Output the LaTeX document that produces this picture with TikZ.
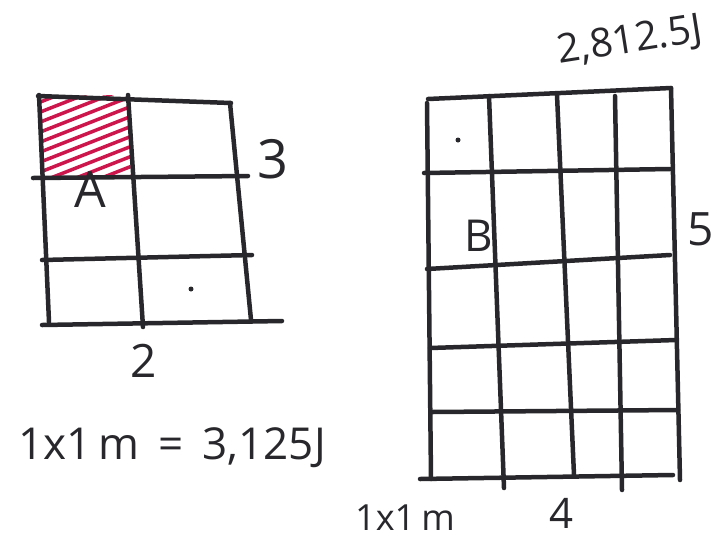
\documentclass[tikz,border=0pt]{standalone}
\usepackage{fontspec}
\setmainfont{Open Sans}
\definecolor{hatchred}{RGB}{205,22,75}
\definecolor{ink}{RGB}{40,40,44}
\tikzset{
  gridline/.style={draw=ink, line width=4.5pt, line cap=round},
  hatch/.style={draw=hatchred, line width=3.5pt, line cap=round},
  hand/.style={text=ink, inner sep=0pt, font=\fontsize{#1}{#1}\selectfont},
  dotmark/.style={fill=ink, circle, inner sep=0pt, minimum size=5pt}
}
\begin{document}
\begin{tikzpicture}[x=1pt,y=-1pt]
\useasboundingbox[fill=white] (0,0) rectangle (717,539);
% ---------- left grid (A) ----------
\begin{scope}
  \clip (40,96) -- (128,95) -- (131,178) -- (40,178) -- cycle;
  \foreach \k in {0,...,20} {
    \draw[hatch] (20,{60+10*\k}) -- (160,{60+10*\k-55});
  }
\end{scope}
\draw[gridline] (38,96) -- (231,103);
\draw[gridline] (33,178) -- (248,176);
\draw[gridline] (42,260) -- (252,255);
\draw[gridline] (42,325) -- (282,321);
\draw[gridline] (39,95) -- (49,322);
\draw[gridline] (128,95) -- (143,327);
\draw[gridline] (230,103) -- (251,320);
\node[hand=50] (labA) at (90,190) {A};
\node[hand=54] (lab3) at (273,159) {3};
\node[hand=46] (lab2) at (144,361) {2};
\node[dotmark] (dotA) at (191,289) {};
\node[hand=44] (eqn) at (172,448) {1x1\,m\, = \,3,125J};
% ---------- right grid (B) ----------
\draw[gridline] (428,99) -- (671,88);
\draw[gridline] (424,173) -- (670,169);
\draw[gridline] (427,269) -- (670,255);
\draw[gridline] (430,348) -- (676,340);
\draw[gridline] (432,412) -- (678,410);
\draw[gridline] (420,479) -- (673,475);
\draw[gridline] (427,103) -- (431,479);
\draw[gridline] (489,96) -- (504,488);
\draw[gridline] (557,95) -- (574,475);
\draw[gridline] (615,96) -- (622,490);
\draw[gridline] (671,88) -- (680,480);
\node[dotmark] (dotB) at (458,140) {};
\node[hand=44] (labB) at (479,236) {B};
\node[hand=46] (lab5) at (701,229) {5};
\node[hand=42] (lab4) at (561,513) {4};
\node[hand=36] (unitB) at (405,518) {1x1\,m};
\node[hand=40, rotate=9] (total) at (630,42) {2,812.5J};
\end{tikzpicture}
\end{document}
